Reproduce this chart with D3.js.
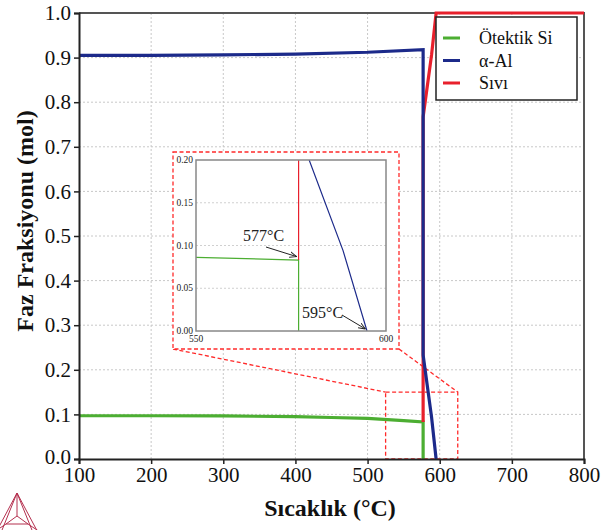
<!DOCTYPE html>
<html><head><meta charset="utf-8">
<script src="https://cdn.jsdelivr.net/npm/d3@7"></script>
<style>body{margin:0;background:#fff}svg{display:block}text{font-family:"Liberation Serif","Times New Roman",serif}</style>
</head><body>
<svg id="c" width="614" height="530"></svg>
<script>
// ---- data ----
const xTicks = [100,200,300,400,500,600,700,800];
const yTicks = [0,0.1,0.2,0.3,0.4,0.5,0.6,0.7,0.8,0.9,1.0];
const siliconT = [100,200,300,400,450,500,550,577,577];
const siliconF = [0.097,0.097,0.0965,0.095,0.093,0.091,0.086,0.083,0];
const alT = [100,200,300,400,500,577,577,588.7,595];
const alF = [0.905,0.905,0.906,0.908,0.912,0.918,0.233,0.094,0];
const liqT = [577,577,588.7,595,800];
const liqF = [0.083,0.767,0.906,1.0,1.0];
const seriesNames = ["Ötektik Si","α-Al","Sıvı"];
const seriesColors = ["#4cae32","#1c2a8a","#e8202c"];
const insetXTicks = [550,600];
const insetYTicks = [0,0.05,0.10,0.15,0.20];
const zoomBox = {t0:525,t1:625,f0:0,f1:0.15};
const annotations = [{label:"577°C",t:577,f:0.087},{label:"595°C",t:595,f:0}];

const svg = d3.select("#c");
const x = d3.scaleLinear([100,800],[79,584]);
const y = d3.scaleLinear([0,1],[459,13]);
const zip = (a,b)=>a.map((v,i)=>[v,b[i]]);
const series = [zip(siliconT,siliconF), zip(alT,alF), zip(liqT,liqF)];

// grid
const g = svg.append("g");
g.selectAll(".gx").data(xTicks.slice(1,-1)).join("line")
 .attr("x1",d=>x(d)).attr("x2",d=>x(d)).attr("y1",y(0)).attr("y2",y(1))
 .attr("stroke","#c8c8c8").attr("stroke-dasharray","2,2").attr("stroke-width",1);
g.selectAll(".gy").data(yTicks.slice(1,-1)).join("line")
 .attr("y1",d=>y(d)).attr("y2",d=>y(d)).attr("x1",x(100)).attr("x2",x(800))
 .attr("stroke","#c8c8c8").attr("stroke-dasharray","2,2").attr("stroke-width",1);

// frame top/right
svg.append("path").attr("d",`M${x(100)},${y(1)}H${x(800)}V${y(0)}`)
 .attr("fill","none").attr("stroke","#555").attr("stroke-width",2);

// small zoom rect + connectors + inset box (dashed)
const red="#ff2a2a";
const dash="4,2.5";
const iBox = {x0:173,y0:152,x1:399,y1:349};
svg.append("rect").attr("x",x(zoomBox.t0)).attr("y",y(zoomBox.f1))
 .attr("width",x(zoomBox.t1)-x(zoomBox.t0)).attr("height",y(zoomBox.f0)-y(zoomBox.f1))
 .attr("fill","none").attr("stroke",red).attr("stroke-width",1.3).attr("stroke-dasharray",dash);
svg.append("line").attr("x1",iBox.x0).attr("y1",iBox.y1).attr("x2",x(zoomBox.t0)).attr("y2",y(zoomBox.f1))
 .attr("stroke",red).attr("stroke-width",1.3).attr("stroke-dasharray",dash);
svg.append("line").attr("x1",iBox.x1).attr("y1",iBox.y1).attr("x2",x(zoomBox.t1)).attr("y2",y(zoomBox.f1))
 .attr("stroke",red).attr("stroke-width",1.3).attr("stroke-dasharray",dash);

// main lines
const line = d3.line().x(d=>x(d[0])).y(d=>y(d[1]));
[0,2,1].forEach(i=>{
  svg.append("path").attr("d",line(series[i])).attr("fill","none")
   .attr("stroke",seriesColors[i]).attr("stroke-width",3.2).attr("stroke-linejoin","miter");
});

// axes
const xa = svg.append("g").attr("transform",`translate(0,${y(0)})`)
 .call(d3.axisBottom(x).tickValues(xTicks).tickSize(5).tickPadding(3).tickFormat(d3.format("d")));
const ya = svg.append("g").attr("transform",`translate(${x(100)},0)`)
 .call(d3.axisLeft(y).tickValues(yTicks).tickSize(5).tickPadding(3).tickFormat(d3.format(".1f")));
[xa,ya].forEach(a=>{
  a.select(".domain").attr("stroke","#222").attr("stroke-width",2);
  a.selectAll(".tick line").attr("stroke","#222").attr("stroke-width",1.5);
  a.selectAll("text").attr("font-size",21).attr("fill","#111");
});
ya.selectAll(".tick text").filter(d=>d===0).attr("dy","0.2em");
svg.append("text").attr("x",330).attr("y",516).attr("text-anchor","middle")
 .attr("font-size",24).attr("font-weight","bold").attr("fill","#111").text("Sıcaklık (°C)");
svg.append("text").attr("transform","translate(33,221) rotate(-90)").attr("text-anchor","middle")
 .attr("font-size",24).attr("font-weight","bold").attr("fill","#111").text("Faz Fraksiyonu (mol)");

// legend
const lg = svg.append("g");
lg.append("rect").attr("x",436).attr("y",17).attr("width",141).attr("height",83)
 .attr("fill","#fff").attr("stroke","#222").attr("stroke-width",1.5);
seriesNames.forEach((n,i)=>{
  const yy = 38+i*22.5;
  lg.append("line").attr("x1",443).attr("x2",460).attr("y1",yy).attr("y2",yy)
   .attr("stroke",seriesColors[i]).attr("stroke-width",3);
  lg.append("text").attr("x",479).attr("y",yy+6).attr("font-size",18).attr("fill","#111").text(n);
});

// inset
svg.append("rect").attr("x",iBox.x0).attr("y",iBox.y0).attr("width",iBox.x1-iBox.x0).attr("height",iBox.y1-iBox.y0)
 .attr("fill","#fff").attr("stroke",red).attr("stroke-width",1.3).attr("stroke-dasharray",dash);
const xi = d3.scaleLinear([550,600],[196,386]);
const yi = d3.scaleLinear([0,0.2],[331,160]);
const ins = svg.append("g");
ins.selectAll(".igy").data(insetYTicks.slice(1,-1)).join("line")
 .attr("x1",xi(550)).attr("x2",xi(600)).attr("y1",d=>yi(d)).attr("y2",d=>yi(d))
 .attr("stroke","#d0d0d0").attr("stroke-dasharray","2,2");
const iline = d3.line().x(d=>xi(d[0])).y(d=>yi(d[1]));
ins.append("clipPath").attr("id","ic").append("rect").attr("x",xi(550)).attr("y",yi(0.2)).attr("width",xi(600)-xi(550)).attr("height",yi(0)-yi(0.2));
const il = ins.append("g").attr("clip-path","url(#ic)");
[0,2,1].forEach(i=>{
  il.append("path").attr("d",iline(series[i])).attr("fill","none").attr("stroke",seriesColors[i]).attr("stroke-width",1.2);
});
ins.append("rect").attr("x",xi(550)).attr("y",yi(0.2)).attr("width",xi(600)-xi(550)).attr("height",yi(0)-yi(0.2))
 .attr("fill","none").attr("stroke","#888").attr("stroke-width",1.5);
ins.selectAll(".iyl").data(insetYTicks).join("text").attr("x",xi(550)-3).attr("y",d=>yi(d)+3)
 .attr("text-anchor","end").attr("font-size",9.5).attr("fill","#222").text(d=>d3.format(".2f")(d));
ins.selectAll(".ixl").data(insetXTicks).join("text").attr("x",d=>xi(d)).attr("y",yi(0)+11)
 .attr("text-anchor","middle").attr("font-size",9.5).attr("fill","#222").text(d=>d);

// annotations
svg.append("defs").append("marker").attr("id","ah").attr("viewBox","0 0 10 10").attr("refX",10).attr("refY",5)
 .attr("markerWidth",7).attr("markerHeight",7).attr("orient","auto")
 .append("path").attr("d","M0,1 L10,5 L0,9").attr("fill","none").attr("stroke","#222").attr("stroke-width",1.3);
const annPos = [{tx:243,ty:241,ax:266,ay:247},{tx:302,ty:318,ax:342,ay:315}];
annotations.forEach((a,i)=>{
  const p = annPos[i];
  ins.append("text").attr("x",p.tx).attr("y",p.ty).attr("font-size",16).attr("fill","#222").text(a.label);
  ins.append("line").attr("x1",p.ax).attr("y1",p.ay).attr("x2",xi(a.t)-(i?1.5:2)).attr("y2",yi(a.f)-(i?2:0))
   .attr("stroke","#222").attr("stroke-width",1).attr("marker-end","url(#ah)");
});

// logo
const lc="#b4304f";
const logo = svg.append("g").attr("fill","none").attr("stroke",lc).attr("stroke-width",1);
logo.append("path").attr("d","M17,493 L-8,540 M17,493 L42,540 M17,493 L-2,540 M17,493 L36,540 M17,493 L17,516 M17,516 L6,524 M17,516 L28,524 M6,524 L28,524 M6,524 L-6,532 M28,524 L40,532");
</script>
</body></html>
